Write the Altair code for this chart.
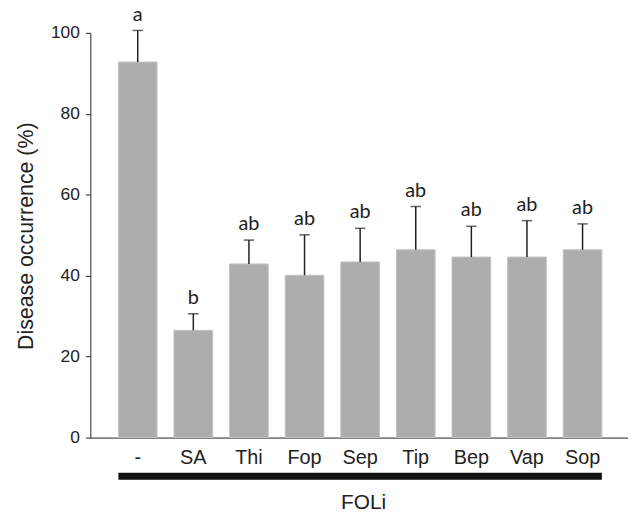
import altair as alt
import pandas as pd

categories = ["-", "SA", "Thi", "Fop", "Sep", "Tip", "Bep", "Vap", "Sop"]
means = [92.8, 26.5, 42.9, 40.1, 43.4, 46.4, 44.6, 44.6, 46.4]
errors = [7.8, 4.1, 5.9, 10.0, 8.3, 10.7, 7.6, 9.0, 6.4]
letters = ["a", "b", "ab", "ab", "ab", "ab", "ab", "ab", "ab"]
y_ticks = [0, 20, 40, 60, 80, 100]
group_label = "FOLi"
y_title = "Disease occurrence (%)"

df = pd.DataFrame({"cat": categories, "mean": means, "err": errors, "letter": letters})
df["top"] = df["mean"] + df["err"]

ink = "#222222"
xscale = alt.Scale(domain=categories, paddingInner=0.305, paddingOuter=0.487, align=0.518)
yscale = alt.Scale(domain=[0, 100], nice=False, zero=True)

xaxis = alt.Axis(labelAngle=0, ticks=False, tickSize=0, labelPadding=10,
                 labelFontSize=20, titleFontSize=21, titleY=71, titleX=275,
                 titleBaseline="alphabetic", domainColor=ink, domainWidth=1)
yaxis = alt.Axis(values=y_ticks, tickSize=5, labelPadding=6, labelFontSize=17.5,
                 titleFontSize=21.5, titleX=-58.5, titleY=204.5,
                 titleBaseline="alphabetic", domainColor=ink, tickColor=ink)

X = lambda: alt.X("cat:N", scale=xscale, sort=categories, axis=xaxis, title=group_label)

base = alt.Chart(df)

bars = base.mark_bar(color="#adadad", stroke="#c2c2c2", strokeWidth=1).encode(
    x=X(), y=alt.Y("mean:Q", scale=yscale, axis=yaxis, title=y_title)
)
err = base.mark_rule(color=ink, strokeWidth=1.5).encode(
    x=X(), y=alt.Y("mean:Q", scale=yscale, title=y_title), y2="top:Q"
)
caps = base.mark_tick(color=ink, thickness=1.5, size=10.5).encode(
    x=X(), y=alt.Y("top:Q", scale=yscale, title=y_title)
)
labels = base.mark_text(font="Lato", fontSize=20, baseline="alphabetic", dy=-10, color=ink).encode(
    x=X(), y=alt.Y("top:Q", scale=yscale, title=y_title), text="letter:N"
)
group_bar = alt.Chart(pd.DataFrame({"g": [group_label]})).mark_rule(color="#111111", strokeWidth=7).encode(
    x=alt.X(datum=categories[0], type="nominal", bandPosition=0, scale=xscale, title=group_label),
    x2=alt.X2(datum=categories[-1], bandPosition=1),
    y=alt.value(447),
)

chart = alt.layer(bars, err, caps, labels, group_bar).properties(
    width=542, height=408,
    padding={"left": 83, "top": 23, "right": 0, "bottom": 80},
    autosize=alt.AutoSizeParams(type="none"),
    background="white",
).configure_view(stroke=None).configure_axis(
    grid=False, labelColor=ink, titleColor=ink, labelFont="Liberation Sans",
    titleFont="Liberation Sans", titleFontWeight="normal"
)

chart.save("out.html", embed_options={"renderer": "svg", "actions": False})
